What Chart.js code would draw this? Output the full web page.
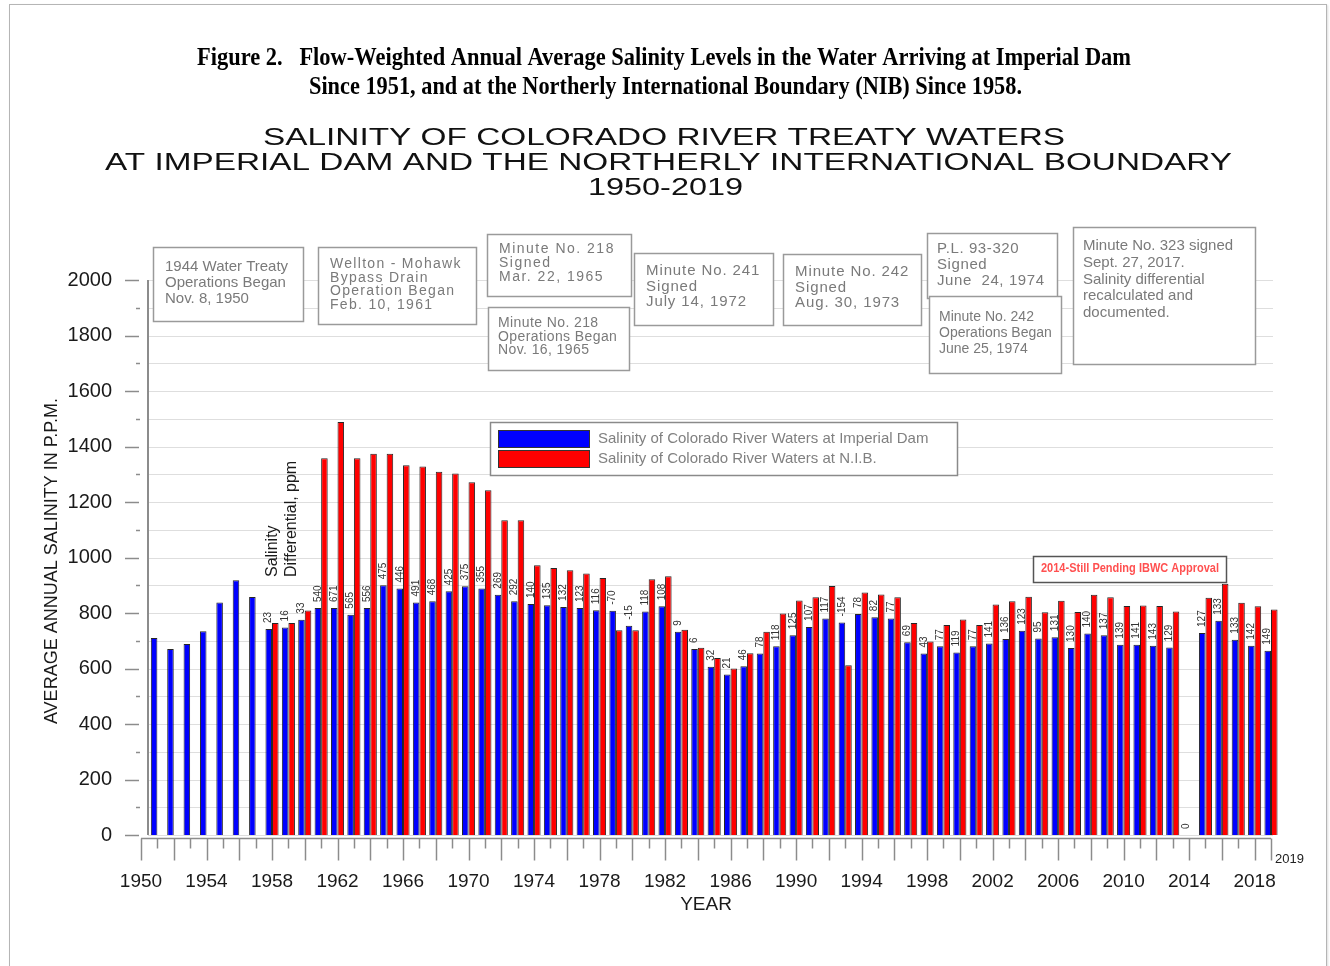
<!DOCTYPE html>
<html>
<head>
<meta charset="utf-8">
<script src="https://cdn.jsdelivr.net/npm/chart.js@4.4.1/dist/chart.umd.min.js"></script>
<style>
html,body{margin:0;padding:0;background:#fff;}
#wrap{position:absolute;left:0;top:0;width:1330px;height:966px;overflow:hidden;}
#frame{position:absolute;left:9px;top:4px;width:1316px;height:1000px;border:1px solid #b5b5b5;box-shadow:1px 1px 2px #ddd;}
#c{position:absolute;left:0;top:0;}
</style>
</head>
<body>
<div id="wrap"><div id="frame"></div><canvas id="c" width="1330" height="966"></canvas></div>
<script>
// ---------- DATA ----------
const years = ['1950','1951','1952','1953','1954','1955','1956','1957','1958','1959',
  '1960','1961','1962','1963','1964','1965','1966','1967','1968','1969',
  '1970','1971','1972','1973','1974','1975','1976','1977','1978','1979',
  '1980','1981','1982','1983','1984','1985','1986','1987','1988','1989',
  '1990','1991','1992','1993','1994','1995','1996','1997','1998','1999',
  '2000','2001','2002','2003','2004','2005','2006','2007','2008','2009',
  '2010','2011','2012','2013','2014','2015','2016','2017','2018','2019'];

const imperialDam = [null,710,670,688,734,838,918,858,742,748,
  776,818,818,794,818,900,888,838,842,878,
  896,888,866,842,832,828,822,818,810,808,
  754,805,824,732,670,606,578,608,654,680,
  720,750,780,766,796,785,780,695,654,680,
  658,680,690,706,736,708,713,674,726,720,
  686,686,682,676,0,728,772,704,682,664];

const nib = [null,null,null,null,null,null,null,null,764,764,
  809,1358,1488,1358,1374,1374,1332,1328,1309,1303,
  1271,1242,1134,1134,972,962,954,942,926,738,
  738,922,932,740,675,638,600,655,732,798,
  845,857,897,612,874,867,857,764,697,757,
  777,757,831,842,859,803,844,804,866,857,
  825,827,825,805,0,855,905,837,824,813];

const differential = [null,null,null,null,null,null,null,null,'23','16',
  '33','540','671','565','556','475','446','491','468','425',
  '375','355','269','292','140','135','132','123','116','-70',
  '-15','118','108','9','6','32','21','46','78','118',
  '125','107','117','-154','78','82','77','69','43','77',
  '119','77','141','136','123','95','131','130','140','137',
  '139','141','143','129','0','127','133','133','142','149'];

const yTickLabels = ['0','200','400','600','800','1000','1200','1400','1600','1800','2000'];

const seriesNames = ['Salinity of Colorado River Waters at Imperial Dam','Salinity of Colorado River Waters at N.I.B.'];

const headerLines = ['Figure 2.   Flow-Weighted Annual Average Salinity Levels in the Water Arriving at Imperial Dam',
  'Since 1951, and at the Northerly International Boundary (NIB) Since 1958.'];
const chartTitleLines = ['SALINITY OF COLORADO RIVER TREATY WATERS',
  'AT IMPERIAL DAM AND THE NORTHERLY INTERNATIONAL BOUNDARY','1950-2019'];

const notes = [
  ['1944 Water Treaty','Operations Began','Nov. 8, 1950'],
  ['Wellton - Mohawk','Bypass Drain','Operation Began','Feb. 10, 1961'],
  ['Minute No. 218','Signed','Mar. 22, 1965'],
  ['Minute No. 218','Operations Began','Nov. 16, 1965'],
  ['Minute No. 241','Signed','July 14, 1972'],
  ['Minute No. 242','Signed','Aug. 30, 1973'],
  ['P.L. 93-320','Signed','June  24, 1974'],
  ['Minute No. 242','Operations Began','June 25, 1974'],
  ['Minute No. 323 signed','Sept. 27, 2017.','Salinity differential','recalculated and','documented.']
];
const pendingNote = '2014-Still Pending IBWC Approval';

// ---------- LAYOUT / STYLE ----------
const noteLayout = [
  {x:153,y:247,w:150,h:74, tx:165, b0:271, lh:16,   fs:15, ls:0},
  {x:318,y:247,w:158,h:77, tx:330, b0:268, lh:13.7, fs:14, ls:1.3},
  {x:487,y:234,w:144,h:62, tx:499, b0:253, lh:14,   fs:14, ls:1.5},
  {x:488,y:307,w:141,h:63, tx:498, b0:327, lh:13.7, fs:14, ls:0.4},
  {x:634,y:253,w:139,h:72, tx:646, b0:275, lh:15.5, fs:15, ls:0.9},
  {x:783,y:254,w:138,h:71, tx:795, b0:276, lh:15.5, fs:15, ls:0.9},
  {x:927,y:233,w:130,h:65, tx:937, b0:253, lh:16,   fs:15, ls:0.6},
  {x:929,y:296,w:132,h:77, tx:939, b0:321, lh:16,   fs:14, ls:0},
  {x:1073,y:227,w:182,h:137,tx:1083,b0:250, lh:16.8, fs:15, ls:0}
];
const SANS = "'Liberation Sans', Arial, sans-serif";
const SERIF = "'Liberation Serif', 'Times New Roman', serif";
const NOTE_COLOR = '#7a7a7a';

function fitText(ctx, text, cx, baseY, width, font, color){
  ctx.save();
  ctx.font = font;
  ctx.fillStyle = color;
  const m = ctx.measureText(text).width;
  ctx.translate(cx, baseY);
  ctx.scale(width / m, 1);
  ctx.textAlign = 'center';
  ctx.textBaseline = 'alphabetic';
  ctx.fillText(text, 0, 0);
  ctx.restore();
}

const decor = {
  id:'decor',
  beforeDatasetsDraw(chart){
    const {ctx, chartArea:a, scales:{y}} = chart;
    const axisX = a.left + 7;
    ctx.save();
    // horizontal grid lines every 100
    ctx.strokeStyle = '#dedede';
    ctx.lineWidth = 1.2;
    for (let v = 0; v <= 2000; v += 100){
      const py = Math.round(y.getPixelForValue(v)) + 0.5;
      ctx.beginPath(); ctx.moveTo(axisX, py); ctx.lineTo(a.right + 2, py); ctx.stroke();
    }
    ctx.restore();
  },
  afterDraw(chart){
    const {ctx, chartArea:a, scales:{x, y}} = chart;
    const axisX = a.left + 7;
    ctx.save();
    // y axis line
    ctx.strokeStyle = '#8c8c8c'; ctx.lineWidth = 2;
    ctx.beginPath(); ctx.moveTo(axisX, a.top); ctx.lineTo(axisX, a.bottom); ctx.stroke();
    // y ticks
    ctx.lineWidth = 1.5; ctx.strokeStyle = '#8c8c8c';
    for (let v = 0; v <= 2000; v += 100){
      const py = Math.round(y.getPixelForValue(v)) + 0.5;
      ctx.beginPath();
      if (v % 200 === 0){ ctx.moveTo(axisX - 23, py); ctx.lineTo(axisX - 9, py); }
      else { ctx.moveTo(axisX - 12, py); ctx.lineTo(axisX - 8, py); }
      ctx.stroke();
    }
    // x axis line and ticks
    const xAxisY = a.bottom + 3.5;
    ctx.lineWidth = 1.5;
    ctx.beginPath(); ctx.moveTo(x.getPixelForTick(0), xAxisY); ctx.lineTo(x.getPixelForTick(years.length - 1), xAxisY); ctx.stroke();
    for (let i = 0; i < years.length; i++){
      const px = Math.round(x.getPixelForTick(i)) + 0.5;
      const long = (i % 2 === 0) || i === years.length - 1;
      ctx.beginPath(); ctx.moveTo(px, xAxisY); ctx.lineTo(px, xAxisY + (long ? 22 : 10)); ctx.stroke();
    }
    // last year small label
    ctx.fillStyle = '#222'; ctx.font = '13px ' + SANS; ctx.textAlign = 'left'; ctx.textBaseline = 'alphabetic';
    ctx.fillText(years[years.length - 1], x.getPixelForTick(years.length - 1) + 4, a.bottom + 28);

    // axis titles
    ctx.fillStyle = '#1a1a1a';
    ctx.font = '19px ' + SANS; ctx.textAlign = 'center';
    ctx.fillText('YEAR', 706, 910);
    ctx.save();
    ctx.translate(57, 561); ctx.rotate(-Math.PI/2);
    ctx.font = '18px ' + SANS; ctx.textAlign = 'center'; ctx.textBaseline = 'alphabetic';
    ctx.fillText('AVERAGE ANNUAL SALINITY IN P.P.M.', 0, 0);
    ctx.restore();

    // differential labels (rotated) above the Imperial Dam bars
    const meta = chart.getDatasetMeta(0);
    ctx.fillStyle = '#333';
    ctx.font = '10px ' + SANS;
    for (let i = 0; i < differential.length; i++){
      if (differential[i] === null) continue;
      const bar = meta.data[i];
      ctx.save();
      ctx.translate(bar.x, bar.y - 6);
      ctx.rotate(-Math.PI/2);
      ctx.textAlign = 'left'; ctx.textBaseline = 'middle';
      ctx.fillText(differential[i], 0, 0);
      ctx.restore();
    }
    // "Salinity Differential, ppm"
    ctx.save();
    ctx.fillStyle = '#1a1a1a';
    ctx.font = '16px ' + SANS;
    ctx.translate(277, 577); ctx.rotate(-Math.PI/2);
    ctx.textAlign = 'left'; ctx.textBaseline = 'alphabetic';
    ctx.fillText('Salinity', 0, 0);
    ctx.fillText('Differential, ppm', 0, 19);
    ctx.restore();

    // headers
    fitText(ctx, headerLines[0], 664, 65, 934, 'bold 26px ' + SERIF, '#000');
    fitText(ctx, headerLines[1], 665.5, 94, 713, 'bold 26px ' + SERIF, '#000');
    fitText(ctx, chartTitleLines[0], 664, 145, 802, '23px ' + SANS, '#111');
    fitText(ctx, chartTitleLines[1], 668.5, 170, 1127, '23px ' + SANS, '#111');
    fitText(ctx, chartTitleLines[2], 665.5, 195, 155, '23px ' + SANS, '#111');

    // annotation boxes
    notes.forEach((lines, k) => {
      const L = noteLayout[k];
      ctx.fillStyle = '#fff';
      ctx.fillRect(L.x, L.y, L.w, L.h);
      ctx.strokeStyle = '#9a9a9a'; ctx.lineWidth = 1.5;
      ctx.strokeRect(L.x + 0.5, L.y + 0.5, L.w, L.h);
      ctx.fillStyle = NOTE_COLOR;
      ctx.font = L.fs + 'px ' + SANS;
      ctx.letterSpacing = L.ls + 'px';
      ctx.textAlign = 'left'; ctx.textBaseline = 'alphabetic';
      lines.forEach((t, j) => ctx.fillText(t, L.tx, L.b0 + j * L.lh));
      ctx.letterSpacing = '0px';
    });

    // pending approval box
    ctx.fillStyle = '#fff'; ctx.fillRect(1033, 556, 193, 26);
    ctx.strokeStyle = '#555'; ctx.lineWidth = 1.5; ctx.strokeRect(1033.5, 556.5, 193, 26);
    fitText(ctx, pendingNote, 1130, 572, 178, 'bold 12px ' + SANS, '#ff5050');

    // legend
    ctx.fillStyle = '#fff'; ctx.fillRect(490, 422, 467, 53);
    ctx.strokeStyle = '#8a8a8a'; ctx.lineWidth = 1.5; ctx.strokeRect(490.5, 422.5, 467, 53);
    chart.data.datasets.forEach((ds, k) => {
      const sy = 430 + k * 20;
      ctx.fillStyle = ds.backgroundColor; ctx.fillRect(498, sy, 91, 17);
      ctx.strokeStyle = '#333'; ctx.lineWidth = 1; ctx.strokeRect(498.5, sy + 0.5, 91, 17);
      ctx.fillStyle = '#808080'; ctx.font = '15px ' + SANS;
      ctx.textAlign = 'left'; ctx.textBaseline = 'middle';
      ctx.fillText(ds.label, 598, sy + 9);
    });
    ctx.restore();
  }
};

Chart.defaults.font.family = SANS;

new Chart(document.getElementById('c'), {
  type: 'bar',
  data: {
    labels: years,
    datasets: [
      {label: seriesNames[0], data: imperialDam, backgroundColor: '#0000ff', borderColor: '#262626', borderWidth: 1, clip: false},
      {label: seriesNames[1], data: nib, backgroundColor: '#ff0000', borderColor: '#262626', borderWidth: 1, clip: false}
    ]
  },
  options: {
    responsive: false,
    animation: false,
    layout: {padding: {left: 0, top: 280, right: 59, bottom: 61}},
    datasets: {bar: {categoryPercentage: 0.8, barPercentage: 1.0}},
    plugins: {legend: {display: false}, title: {display: false}, tooltip: {enabled: false}},
    scales: {
      x: {
        offset: false,
        grid: {display: false, drawTicks: false},
        border: {display: false},
        ticks: {
          autoSkip: false, maxRotation: 0, minRotation: 0, padding: 35,
          color: '#1a1a1a', font: {size: 19},
          callback: (v, i) => (i % 4 === 0 ? years[i] : '')
        },
        afterFit: (s) => { s.height = 70; }
      },
      y: {
        min: 0, max: 2000,
        grid: {display: false, drawTicks: false},
        border: {display: false},
        ticks: {
          stepSize: 100, padding: 29, color: '#1a1a1a', font: {size: 20},
          callback: (v) => (v % 200 === 0 ? yTickLabels[v / 200] : '')
        },
        afterFit: (s) => { s.width = 141; }
      }
    }
  },
  plugins: [decor]
});
</script>
</body>
</html>
